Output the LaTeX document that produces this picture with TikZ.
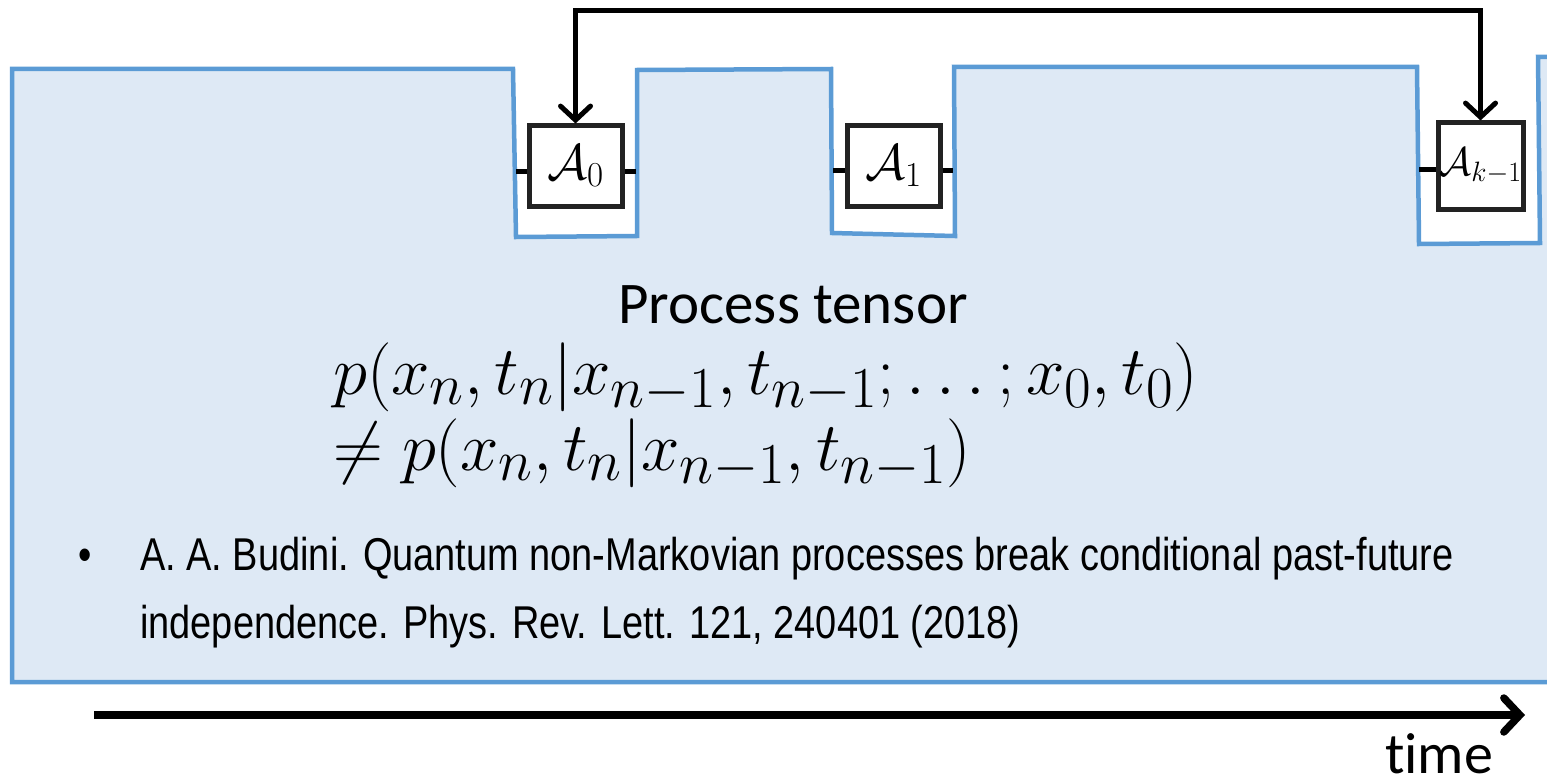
\documentclass[tikz,border=0pt]{standalone}
\usepackage{fix-cm}
\usepackage{fontspec}
\usetikzlibrary{arrows.meta}
\newfontfamily\calibrifont[Ligatures=NoCommon]{Carlito}
\newfontfamily\arialnarrow[FakeStretch=0.825]{Liberation Sans}
\DeclareMathSizes{69}{69}{58}{46}
\definecolor{ptfill}{HTML}{DEE9F5}
\definecolor{ptline}{HTML}{5B9BD5}
\definecolor{boxline}{HTML}{222222}
\tikzset{
  opbox/.style={draw=boxline, line width=5pt, fill=white, minimum width=93pt, minimum height=80pt, inner sep=0pt, font=\fontsize{50}{50}\selectfont},
  stub/.style={line width=5pt, black},
  fbline/.style={line width=5pt, black, {Straight Barb[length=14pt,width=30pt,line cap=round]}-{Straight Barb[length=14pt,width=30pt,line cap=round]}},
  timearrow/.style={line width=7.5pt, black, -{Straight Barb[length=16pt,width=34pt,line cap=round]}},
  outline/.style={draw=ptline, line width=4.5pt, line join=miter},
  mathtext/.style={anchor=base west, inner sep=0pt, font=\fontsize{69}{69}\selectfont},
  reftext/.style={anchor=base west, inner sep=0pt, font=\arialnarrow\fontsize{46}{46}\selectfont},
}
\begin{document}
\begin{tikzpicture}[x=1pt,y=-1pt]
\useasboundingbox (0,0) rectangle (1547,781);

% process tensor body: filled comb-shaped region
\fill[ptfill] (1547,57) -- (1538,57) -- (1540,243) -- (1419,244) -- (1417,67)
  -- (954,67) -- (955,236) -- (832,233) -- (831,69) -- (637,70) -- (637,236)
  -- (516,237) -- (513,69) -- (12,69) -- (12,682) -- (1547,682) -- cycle;
\draw[outline] (1547,57) -- (1538,57) -- (1540,243) -- (1419,244) -- (1417,67)
  -- (954,67) -- (955,236) -- (832,233) -- (831,69) -- (637,70) -- (637,236)
  -- (516,237) -- (513,69) -- (12,69) -- (12,682) -- (1547,682);

% operations applied at the teeth
\node[opbox] (A0) at (575.5,166) {$\mathcal{A}_0$};
\node[opbox] (A1) at (893.5,166) {$\mathcal{A}_1$};
\node[opbox, minimum width=85pt, minimum height=86pt] (Ak) at (1480.5,166) {\fontsize{40}{40}\selectfont$\mathcal{A}_{k-1}$};

\coordinate (A0l) at (516,171);
\coordinate (A0r) at (636,171);
\coordinate (A1l) at (833,170);
\coordinate (A1r) at (953,170);
\coordinate (Akl) at (1419,169);
\draw[stub] (A0l) -- (A0.west |- A0l);
\draw[stub] (A0.east |- A0r) -- (A0r);
\draw[stub] (A1l) -- (A1.west |- A1l);
\draw[stub] (A1.east |- A1r) -- (A1r);
\draw[stub] (Akl) -- (Ak.west |- Akl);

% feedback connection between first and last operation
\coordinate (top) at (1000,11);
\draw[fbline] (A0.north) |- (top) -| (Ak.north);

% texts
\node[anchor=base, font=\calibrifont\fontsize{59}{59}\selectfont] (title) at (793,323) {Process tensor};
\node[mathtext] (eq1) at (333,394) {$p(x_n,t_n|x_{n-1},t_{n-1};\ldots;x_0,t_0)$};
\node[mathtext] (eq2) at (333,470) {$\neq p(x_n,t_n|x_{n-1},t_{n-1})$};

\node[anchor=base, inner sep=0pt, font=\arialnarrow\fontsize{46}{46}\selectfont] (bul) at (85,570) {\textbullet};
\node[reftext] (ref1) at (140,570)
  {A. A. Budini. Quantum non-Markovian processes break conditional past-future};
\node[reftext] (ref2) at (140,638)
  {independence. Phys. Rev. Lett. 121, 240401 (2018)};

% time axis
\coordinate (t0) at (94,715);
\coordinate (t1) at (1525,715);
\draw[timearrow] (t0) -- (t1);
\node[anchor=base west, inner sep=0pt, font=\calibrifont\fontsize{58}{58}\selectfont] (time) at (1385,773) {time};
\end{tikzpicture}
\end{document}
